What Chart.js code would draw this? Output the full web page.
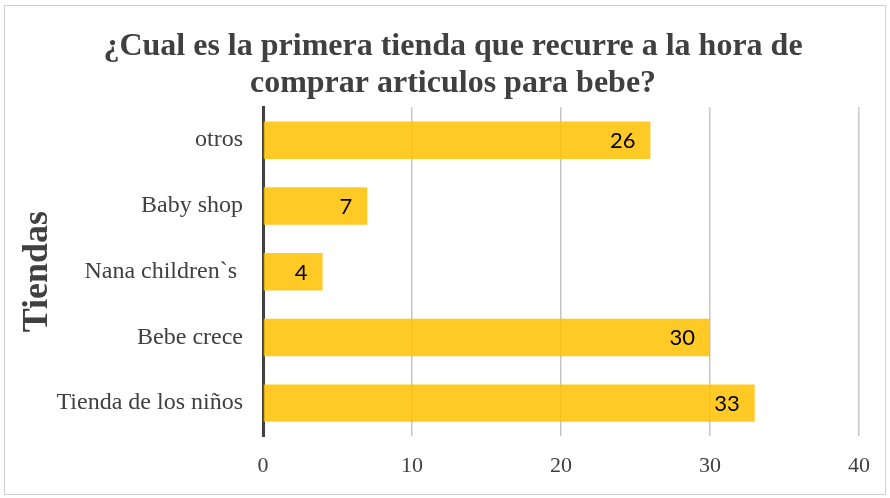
<!DOCTYPE html>
<html>
<head>
<meta charset="utf-8">
<script src="https://cdn.jsdelivr.net/npm/chart.js@4"></script>
<style>
  html, body { margin: 0; padding: 0; background: #fff; }
  #wrap { width: 890px; height: 498px; position: relative; }
</style>
</head>
<body>
<div id="wrap"><canvas id="chart"></canvas></div>
<script>
// -------- DATA --------
const tiendas = ["otros", "Baby shop", "Nana children`s ", "Bebe crece", "Tienda de los niños"];
const respuestas = [26, 7, 4, 30, 33];
const tituloLineas = ["¿Cual es la primera tienda que recurre a la hora de", "comprar articulos para bebe?"];
const ejeY = "Tiendas";

const textGray = "#404040";
const serif = "'Liberation Serif', 'Times New Roman', serif";

// draws the value inside the end of each bar
const valueLabels = {
  id: "valueLabels",
  afterDatasetsDraw(chart) {
    const ctx = chart.ctx;
    const meta = chart.getDatasetMeta(0);
    ctx.save();
    ctx.font = "22px Lato, 'Open Sans', sans-serif";
    ctx.fillStyle = "#000";
    ctx.textAlign = "right";
    ctx.textBaseline = "middle";
    meta.data.forEach((bar, i) => {
      ctx.fillText(String(respuestas[i]), bar.x - 15, bar.y + 1);
    });
    ctx.restore();
  }
};

// light frame around the whole chart
const frame = {
  id: "frame",
  beforeDraw(chart) {
    const ctx = chart.ctx;
    ctx.save();
    ctx.strokeStyle = "#d0d0d0";
    ctx.lineWidth = 1;
    ctx.strokeRect(4.5, 5.5, chart.width - 9, chart.height - 9);
    ctx.restore();
  }
};

const ctx = document.getElementById("chart").getContext("2d");
new Chart(ctx, {
  type: "bar",
  data: {
    labels: tiendas,
    datasets: [{
      data: respuestas,
      backgroundColor: "rgba(255, 192, 0, 0.85)",
      borderWidth: 0,
      barPercentage: 0.57,
      categoryPercentage: 1.0
    }]
  },
  options: {
    indexAxis: "y",
    responsive: true,
    maintainAspectRatio: false,
    animation: false,
    layout: { padding: { top: 19, left: 16, right: 0, bottom: 12 } },
    plugins: {
      legend: { display: false },
      tooltip: { enabled: false },
      title: {
        display: true,
        text: tituloLineas,
        color: textGray,
        font: { family: serif, size: 32, weight: "bold", lineHeight: 1.13 },
        padding: { top: 10, bottom: 6 }
      }
    },
    scales: {
      x: {
        min: 0,
        max: 40,
        ticks: {
          stepSize: 10,
          color: textGray,
          padding: 17,
          font: { family: serif, size: 22 }
        },
        grid: { color: "#c6c6c6", lineWidth: 1.5, drawTicks: false },
        border: { display: false },
        afterFit(scale) {
          scale.paddingRight = 31;
          scale.height = 50;
        }
      },
      y: {
        ticks: {
          color: textGray,
          padding: 20,
          font: { family: serif, size: 24 }
        },
        grid: { display: false, drawTicks: false },
        border: { display: true, color: "#404040", width: 3 },
        title: {
          display: true,
          text: ejeY,
          color: textGray,
          font: { family: serif, size: 36, weight: "bold", lineHeight: 1.2 },
          padding: { top: 0, bottom: 0 }
        },
        afterFit(scale) {
          scale.width = 247;
        }
      }
    }
  },
  plugins: [frame, valueLabels]
});
</script>
</body>
</html>
